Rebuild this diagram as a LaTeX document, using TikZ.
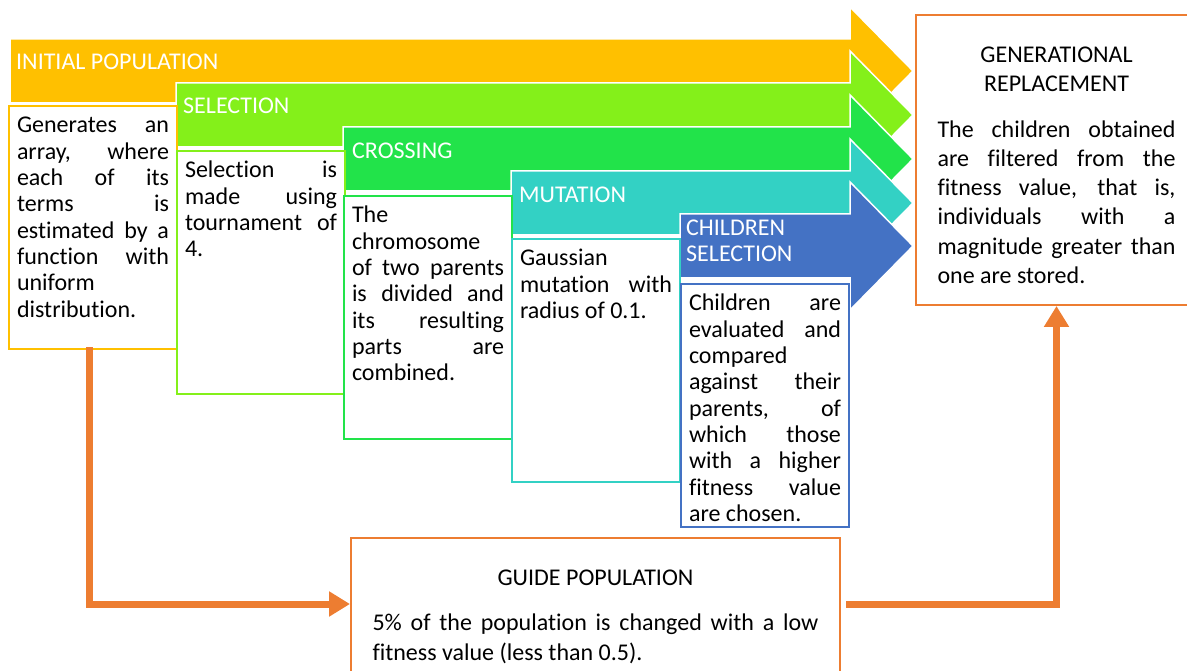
\documentclass[tikz,border=0pt]{standalone}
\usepackage{fontspec}
\setmainfont{Carlito}[Ligatures=NoCommon]
\usepackage{tikz}
\usetikzlibrary{arrows.meta}
\usepackage{xcolor}
\definecolor{cyel}{HTML}{FFC000}
\definecolor{clime}{HTML}{84F01A}
\definecolor{cgrn}{HTML}{22E34A}
\definecolor{cteal}{HTML}{33D1C4}
\definecolor{cblue}{HTML}{4472C4}
\definecolor{corange}{HTML}{ED7D31}
\hbadness=10000

\begin{document}
\begin{tikzpicture}[x=1pt,y=-1pt,
  every node/.style={font=\fontsize{24}{26.3}\selectfont},
  band/.style={draw=white,line width=1.5pt},
  lbl/.style={anchor=base west,text=white,inner sep=0pt,align=left},
  txtbox/.style={draw=#1,line width=2pt,fill=white,anchor=north west,text width=152pt,inner sep=8pt,text height=19pt,text depth=208pt,align=justify},
  bigbox/.style={draw=corange,line width=2pt,fill=white,anchor=north west,inner xsep=21.5pt,inner ysep=27pt,text height=20.5pt,align=justify,font=\fontsize{24}{29.3}\selectfont},
  flow/.style={draw=corange,line width=7pt,-{Triangle[length=21pt,width=24pt]}}]
\useasboundingbox (0,0) rectangle (1187,671);

% stage arrows
\filldraw[band,fill=cyel] (10,39) -- (850,39) -- (850,7) -- (913,71) -- (850,135) -- (850,103) -- (10,103) -- cycle;
\filldraw[band,fill=clime] (176,83) -- (850,83) -- (850,51) -- (913,115) -- (850,179) -- (850,147) -- (176,147) -- cycle;
\filldraw[band,fill=cgrn] (343,127) -- (850,127) -- (850,95) -- (913,159) -- (850,223) -- (850,191) -- (343,191) -- cycle;
\filldraw[band,fill=cteal] (511,171) -- (850,171) -- (850,139) -- (913,203) -- (850,267) -- (850,235) -- (511,235) -- cycle;
\filldraw[band,fill=cblue] (680,214) -- (850,214) -- (850,182) -- (913,246) -- (850,310) -- (850,278) -- (680,278) -- cycle;

\node[lbl] (initlbl) at (16,70) {INITIAL POPULATION};
\node[lbl] (sellbl) at (183,114) {SELECTION};
\node[lbl] (crosslbl) at (352,159) {CROSSING};
\node[lbl] (mutlbl) at (519,203) {MUTATION};
\node[lbl] (childlbl) at (686,262) {CHILDREN\\SELECTION};

% stage texts
\node[txtbox=cyel] (initbox) at (8,105) {Generates an\linebreak array, where\linebreak each of its\linebreak terms is\linebreak estimated by a\linebreak function with\linebreak uniform\linebreak distribution.};
\node[txtbox=clime] (selbox) at (176,150) {Selection is\linebreak made using\linebreak tournament of\linebreak 4.};
\node[txtbox=cgrn] (crossbox) at (343,195) {The\linebreak chromosome\linebreak of two parents\linebreak is divided and\linebreak its resulting\linebreak parts are\linebreak combined.};
\node[txtbox=cteal] (mutbox) at (511,238) {Gaussian\linebreak mutation with\linebreak radius of 0.1.};
\node[txtbox=cblue] (childbox) at (680,283) {Children are\linebreak evaluated and\linebreak compared\linebreak against their\linebreak parents, of\linebreak which those\linebreak with a higher\linebreak fitness value\linebreak are chosen.};

\node[bigbox,text width=238pt,text depth=215.5pt] (gen) at (915,14) {{\centering GENERATIONAL\\REPLACEMENT\par}\vspace{16pt}The children obtained\linebreak are filtered from the\linebreak fitness value, that is,\linebreak individuals with a\linebreak magnitude greater than\linebreak one are stored.};
\node[bigbox,text width=446pt,text depth=78.5pt] (guide) at (350,537) {{\centering GUIDE POPULATION\par}\vspace{16pt}5\% of the population is changed with a low\linebreak fitness value (less than 0.5).};

\draw[flow] ([xshift=-4pt,yshift=3pt]initbox.south) |- ([yshift=10.5pt]guide.west);
\draw[flow] ([xshift=5pt,yshift=10.5pt]guide.east) -| (gen.south);
\end{tikzpicture}
\end{document}
